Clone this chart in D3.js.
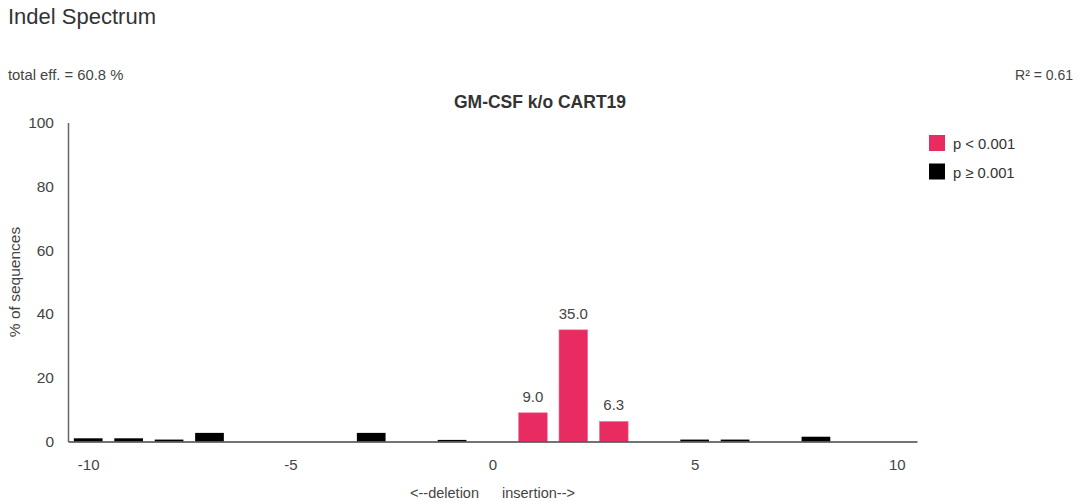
<!DOCTYPE html>
<html><head><meta charset="utf-8">
<script src="https://cdn.jsdelivr.net/npm/d3@7"></script>
<style>body{margin:0;background:#fff;font-family:"Liberation Sans",Arial,sans-serif;}</style>
</head><body><svg id="c" width="1084" height="501"></svg>
<script>
const sizes = [-10, -9, -8, -7, -3, -1, 1, 2, 3, 5, 6, 8];
const values = [1.0, 1.0, 0.6, 2.7, 2.7, 0.5, 9.0, 35.0, 6.3, 0.6, 0.6, 1.5];
const significant = [false, false, false, false, false, false, true, true, true, false, false, false];
const xTicks = [-10, -5, 0, 5, 10];
const yTicks = [0, 20, 40, 60, 80, 100];
const legendLabels = ["p < 0.001", "p \u2265 0.001"];
const pink = "#e82c62";
const FF = "Liberation Sans, Arial, sans-serif";

const svg = d3.select("#c");
const x = d3.scaleLinear().domain([-10.5, 10.5]).range([68, 917]);
const y = d3.scaleLinear().domain([0, 100]).range([441.5, 122.5]);
const bw = (x(1) - x(0)) * 0.71;

svg.append("text").attr("x", 8).attr("y", 24).attr("font-size", 22).attr("fill", "#333").text("Indel Spectrum");
svg.append("text").attr("x", 8).attr("y", 80).attr("font-size", 14.8).attr("fill", "#444").text("total eff. = 60.8 %");
svg.append("text").attr("x", 1073).attr("y", 80).attr("font-size", 14).attr("fill", "#444").attr("text-anchor", "end").text("R\u00b2 = 0.61");
svg.append("text").attr("x", 540).attr("y", 108).attr("font-size", 17.5).attr("font-weight", "bold").attr("fill", "#333").attr("text-anchor", "middle").text("GM-CSF k/o CART19");

// bars
const data = sizes.map((s, i) => ({s, v: values[i], sig: significant[i]}));
svg.selectAll("rect.bar").data(data).enter().append("rect").attr("class", "bar")
  .attr("x", d => x(d.s) - bw / 2).attr("width", bw)
  .attr("y", d => y(d.v)).attr("height", d => y(0) - y(d.v))
  .attr("fill", d => d.sig ? pink : "#000")
  .attr("stroke", d => d.sig ? "#f07a9a" : "none").attr("stroke-width", 0.6);
svg.selectAll("text.val").data(data.filter(d => d.sig)).enter().append("text").attr("class", "val")
  .attr("x", d => x(d.s)).attr("y", d => y(d.v) - 11)
  .attr("text-anchor", "middle").attr("font-size", 15).attr("fill", "#444")
  .text(d => d.v.toFixed(1));

// y axis
const ya = svg.append("g").attr("transform", "translate(68,0)")
  .call(d3.axisLeft(y).tickValues(yTicks).tickSize(0).tickPadding(14));
ya.select(".domain").attr("stroke", "#666").attr("stroke-width", 1.5);
ya.selectAll("text").attr("font-size", 15.5).attr("fill", "#444").attr("font-family", FF);

// x axis
const xa = svg.append("g").attr("transform", `translate(0,${y(0)})`)
  .call(d3.axisBottom(x).tickValues(xTicks).tickSize(0).tickPadding(18).tickFormat(d => String(d)));
xa.select(".domain").attr("stroke", "#444").attr("stroke-width", 1.3);
xa.selectAll("text").attr("font-size", 15).attr("fill", "#444").attr("font-family", FF);

svg.append("text").attr("transform", "translate(20,282) rotate(-90)").attr("text-anchor", "middle")
  .attr("font-size", 15.5).attr("fill", "#444").text("% of sequences");
svg.append("text").attr("x", 479).attr("y", 498).attr("text-anchor", "end").attr("font-size", 14.5).attr("fill", "#444").text("<--deletion");
svg.append("text").attr("x", 502).attr("y", 498).attr("font-size", 14.5).attr("fill", "#444").text("insertion-->");

// legend
const lg = svg.append("g");
legendLabels.forEach((t, i) => {
  lg.append("rect").attr("x", 929).attr("y", 135 + i * 28.5).attr("width", 16).attr("height", 16).attr("fill", i === 0 ? pink : "#000");
  lg.append("text").attr("x", 953).attr("y", 149 + i * 28.5).attr("font-size", 14.8).attr("fill", "#333").text(t);
});
</script></body></html>
